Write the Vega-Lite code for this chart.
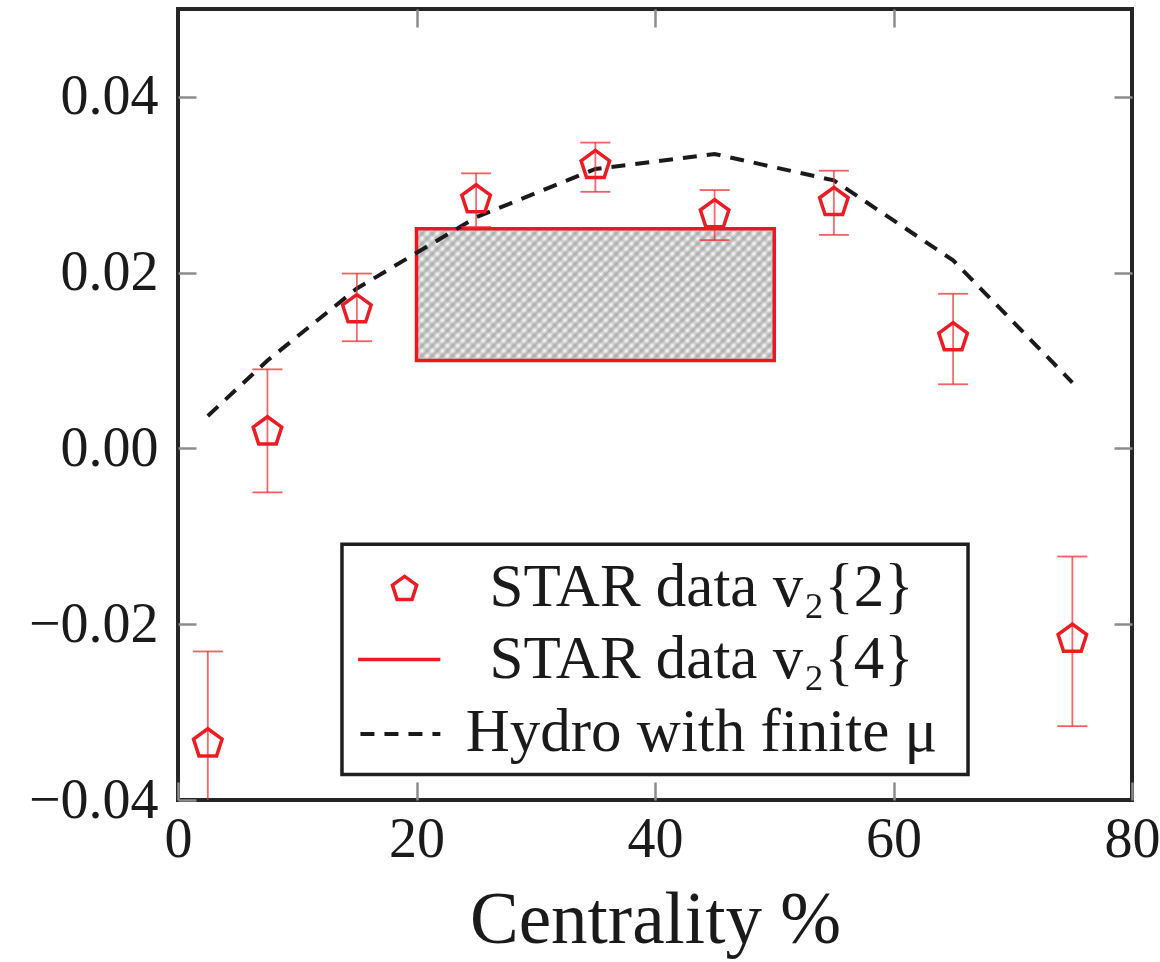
{
  "$schema": "https://vega.github.io/schema/vega-lite/v6.json",
  "width": 954,
  "height": 791,
  "autosize": "none",
  "padding": {"left": 178, "top": 9, "right": 28, "bottom": 162},
  "background": "white",
  "config": {
    "view": {"stroke": "#262626", "strokeWidth": 4},
    "font": "Liberation Serif",
    "axis": {
      "grid": false,
      "domain": false,
      "labelFont": "Liberation Serif",
      "titleFont": "Liberation Serif",
      "labelColor": "#1a1a1a",
      "titleColor": "#1a1a1a",
      "tickColor": "#8c8c8c",
      "tickWidth": 2.5,
      "tickSize": -18,
      "labelFlush": false,
      "titleFontWeight": "normal"
    }
  },
  "resolve": {"axis": {"x": "independent", "y": "independent"}},
  "datasets": {
    "v22": [
      {"centrality": 2.5, "v2": -0.0336, "lo": -0.0450, "hi": -0.0231},
      {"centrality": 7.5, "v2": 0.0019, "lo": -0.0050, "hi": 0.0090},
      {"centrality": 15, "v2": 0.0158, "lo": 0.0122, "hi": 0.0199},
      {"centrality": 25, "v2": 0.0283, "lo": 0.0252, "hi": 0.0313},
      {"centrality": 35, "v2": 0.0322, "lo": 0.0292, "hi": 0.0348},
      {"centrality": 45, "v2": 0.0266, "lo": 0.0237, "hi": 0.0294},
      {"centrality": 55, "v2": 0.0280, "lo": 0.0243, "hi": 0.0316},
      {"centrality": 65, "v2": 0.0126, "lo": 0.0073, "hi": 0.0176},
      {"centrality": 75, "v2": -0.0217, "lo": -0.0316, "hi": -0.0123}
    ],
    "hydro": [
      {"centrality": 2.5, "v2": 0.0037},
      {"centrality": 7.5, "v2": 0.0100},
      {"centrality": 15, "v2": 0.0182},
      {"centrality": 25, "v2": 0.0263},
      {"centrality": 35, "v2": 0.0318},
      {"centrality": 45, "v2": 0.0335},
      {"centrality": 55, "v2": 0.0305},
      {"centrality": 65, "v2": 0.0214},
      {"centrality": 75, "v2": 0.0075}
    ],
    "v24": [{"x0": 20, "x1": 50, "ylo": 0.010, "yhi": 0.025}],
    "legendBox": [{"x0": 13.75, "x1": 66.25, "y0": -0.0109, "y1": -0.0371}],
    "legendSymbol": [{"x": 19.0, "y": -0.0160}],
    "legendRed": [{"x0": 15.1, "x1": 22.0, "y": -0.0240}],
    "legendDash": [{"x0": 15.3, "x1": 22.0, "y": -0.0325}],
    "legendText": [
      {"x": 43.9, "y": -0.01795, "label": "STAR data v₂{2}"},
      {"x": 43.9, "y": -0.02614, "label": "STAR data v₂{4}"},
      {"x": 43.9, "y": -0.03443, "label": "Hydro with finite μ"}
    ]
  },
  "layer": [
    {
      "data": {"name": "v24"},
      "mark": {
        "type": "rect",
        "fill": {
          "gradient": "linear", "x1": 0, "y1": 0, "x2": 1.206, "y2": 0.445,
          "stops": [
            {"offset": 0, "color": "#b8b8b8"}, {"offset": 0.0104, "color": "#ffffff"}, {"offset": 0.0208, "color": "#b8b8b8"}, {"offset": 0.0313, "color": "#ffffff"},
            {"offset": 0.0417, "color": "#b8b8b8"}, {"offset": 0.0521, "color": "#ffffff"}, {"offset": 0.0625, "color": "#b8b8b8"}, {"offset": 0.0729, "color": "#ffffff"},
            {"offset": 0.0833, "color": "#b8b8b8"}, {"offset": 0.0938, "color": "#ffffff"}, {"offset": 0.1042, "color": "#b8b8b8"}, {"offset": 0.1146, "color": "#ffffff"},
            {"offset": 0.125, "color": "#b8b8b8"}, {"offset": 0.1354, "color": "#ffffff"}, {"offset": 0.1458, "color": "#b8b8b8"}, {"offset": 0.1563, "color": "#ffffff"},
            {"offset": 0.1667, "color": "#b8b8b8"}, {"offset": 0.1771, "color": "#ffffff"}, {"offset": 0.1875, "color": "#b8b8b8"}, {"offset": 0.1979, "color": "#ffffff"},
            {"offset": 0.2083, "color": "#b8b8b8"}, {"offset": 0.2188, "color": "#ffffff"}, {"offset": 0.2292, "color": "#b8b8b8"}, {"offset": 0.2396, "color": "#ffffff"},
            {"offset": 0.25, "color": "#b8b8b8"}, {"offset": 0.2604, "color": "#ffffff"}, {"offset": 0.2708, "color": "#b8b8b8"}, {"offset": 0.2813, "color": "#ffffff"},
            {"offset": 0.2917, "color": "#b8b8b8"}, {"offset": 0.3021, "color": "#ffffff"}, {"offset": 0.3125, "color": "#b8b8b8"}, {"offset": 0.3229, "color": "#ffffff"},
            {"offset": 0.3333, "color": "#b8b8b8"}, {"offset": 0.3438, "color": "#ffffff"}, {"offset": 0.3542, "color": "#b8b8b8"}, {"offset": 0.3646, "color": "#ffffff"},
            {"offset": 0.375, "color": "#b8b8b8"}, {"offset": 0.3854, "color": "#ffffff"}, {"offset": 0.3958, "color": "#b8b8b8"}, {"offset": 0.4063, "color": "#ffffff"},
            {"offset": 0.4167, "color": "#b8b8b8"}, {"offset": 0.4271, "color": "#ffffff"}, {"offset": 0.4375, "color": "#b8b8b8"}, {"offset": 0.4479, "color": "#ffffff"},
            {"offset": 0.4583, "color": "#b8b8b8"}, {"offset": 0.4688, "color": "#ffffff"}, {"offset": 0.4792, "color": "#b8b8b8"}, {"offset": 0.4896, "color": "#ffffff"},
            {"offset": 0.5, "color": "#b8b8b8"}, {"offset": 0.5104, "color": "#ffffff"}, {"offset": 0.5208, "color": "#b8b8b8"}, {"offset": 0.5313, "color": "#ffffff"},
            {"offset": 0.5417, "color": "#b8b8b8"}, {"offset": 0.5521, "color": "#ffffff"}, {"offset": 0.5625, "color": "#b8b8b8"}, {"offset": 0.5729, "color": "#ffffff"},
            {"offset": 0.5833, "color": "#b8b8b8"}, {"offset": 0.5938, "color": "#ffffff"}, {"offset": 0.6042, "color": "#b8b8b8"}, {"offset": 0.6146, "color": "#ffffff"},
            {"offset": 0.625, "color": "#b8b8b8"}, {"offset": 0.6354, "color": "#ffffff"}, {"offset": 0.6458, "color": "#b8b8b8"}, {"offset": 0.6563, "color": "#ffffff"},
            {"offset": 0.6667, "color": "#b8b8b8"}, {"offset": 0.6771, "color": "#ffffff"}, {"offset": 0.6875, "color": "#b8b8b8"}, {"offset": 0.6979, "color": "#ffffff"},
            {"offset": 0.7083, "color": "#b8b8b8"}, {"offset": 0.7188, "color": "#ffffff"}, {"offset": 0.7292, "color": "#b8b8b8"}, {"offset": 0.7396, "color": "#ffffff"},
            {"offset": 0.75, "color": "#b8b8b8"}, {"offset": 0.7604, "color": "#ffffff"}, {"offset": 0.7708, "color": "#b8b8b8"}, {"offset": 0.7813, "color": "#ffffff"},
            {"offset": 0.7917, "color": "#b8b8b8"}, {"offset": 0.8021, "color": "#ffffff"}, {"offset": 0.8125, "color": "#b8b8b8"}, {"offset": 0.8229, "color": "#ffffff"},
            {"offset": 0.8333, "color": "#b8b8b8"}, {"offset": 0.8438, "color": "#ffffff"}, {"offset": 0.8542, "color": "#b8b8b8"}, {"offset": 0.8646, "color": "#ffffff"},
            {"offset": 0.875, "color": "#b8b8b8"}, {"offset": 0.8854, "color": "#ffffff"}, {"offset": 0.8958, "color": "#b8b8b8"}, {"offset": 0.9063, "color": "#ffffff"},
            {"offset": 0.9167, "color": "#b8b8b8"}, {"offset": 0.9271, "color": "#ffffff"}, {"offset": 0.9375, "color": "#b8b8b8"}, {"offset": 0.9479, "color": "#ffffff"},
            {"offset": 0.9583, "color": "#b8b8b8"}, {"offset": 0.9688, "color": "#ffffff"}, {"offset": 0.9792, "color": "#b8b8b8"}, {"offset": 0.9896, "color": "#ffffff"},
            {"offset": 1, "color": "#b8b8b8"}
          ]
        }
      },
      "encoding": {
        "x": {
          "field": "x0", "type": "quantitative",
          "scale": {"domain": [0, 80], "nice": false, "zero": false},
          "axis": {"orient": "bottom", "values": [0, 20, 40, 60, 80], "labelFontSize": 56, "labelPadding": 30, "title": "Centrality %", "titleFontSize": 73, "titlePadding": 17}
        },
        "x2": {"field": "x1"},
        "y": {
          "field": "ylo", "type": "quantitative",
          "scale": {"domain": [-0.04, 0.05], "nice": false, "zero": false},
          "axis": {"orient": "left", "values": [-0.04, -0.02, 0, 0.02, 0.04], "format": ".2f", "labelFontSize": 56, "labelPadding": 38, "title": null}
        },
        "y2": {"field": "yhi"}
      }
    },
    {
      "data": {"name": "v24"},
      "mark": {
        "type": "rect",
        "fill": {
          "gradient": "linear", "x1": 0, "y1": 1, "x2": 1.206, "y2": 0.555,
          "stops": [
            {"offset": 0, "color": "rgba(150,150,150,0.45)"}, {"offset": 0.0104, "color": "rgba(150,150,150,0)"}, {"offset": 0.0208, "color": "rgba(150,150,150,0.45)"}, {"offset": 0.0313, "color": "rgba(150,150,150,0)"},
            {"offset": 0.0417, "color": "rgba(150,150,150,0.45)"}, {"offset": 0.0521, "color": "rgba(150,150,150,0)"}, {"offset": 0.0625, "color": "rgba(150,150,150,0.45)"}, {"offset": 0.0729, "color": "rgba(150,150,150,0)"},
            {"offset": 0.0833, "color": "rgba(150,150,150,0.45)"}, {"offset": 0.0938, "color": "rgba(150,150,150,0)"}, {"offset": 0.1042, "color": "rgba(150,150,150,0.45)"}, {"offset": 0.1146, "color": "rgba(150,150,150,0)"},
            {"offset": 0.125, "color": "rgba(150,150,150,0.45)"}, {"offset": 0.1354, "color": "rgba(150,150,150,0)"}, {"offset": 0.1458, "color": "rgba(150,150,150,0.45)"}, {"offset": 0.1563, "color": "rgba(150,150,150,0)"},
            {"offset": 0.1667, "color": "rgba(150,150,150,0.45)"}, {"offset": 0.1771, "color": "rgba(150,150,150,0)"}, {"offset": 0.1875, "color": "rgba(150,150,150,0.45)"}, {"offset": 0.1979, "color": "rgba(150,150,150,0)"},
            {"offset": 0.2083, "color": "rgba(150,150,150,0.45)"}, {"offset": 0.2188, "color": "rgba(150,150,150,0)"}, {"offset": 0.2292, "color": "rgba(150,150,150,0.45)"}, {"offset": 0.2396, "color": "rgba(150,150,150,0)"},
            {"offset": 0.25, "color": "rgba(150,150,150,0.45)"}, {"offset": 0.2604, "color": "rgba(150,150,150,0)"}, {"offset": 0.2708, "color": "rgba(150,150,150,0.45)"}, {"offset": 0.2813, "color": "rgba(150,150,150,0)"},
            {"offset": 0.2917, "color": "rgba(150,150,150,0.45)"}, {"offset": 0.3021, "color": "rgba(150,150,150,0)"}, {"offset": 0.3125, "color": "rgba(150,150,150,0.45)"}, {"offset": 0.3229, "color": "rgba(150,150,150,0)"},
            {"offset": 0.3333, "color": "rgba(150,150,150,0.45)"}, {"offset": 0.3438, "color": "rgba(150,150,150,0)"}, {"offset": 0.3542, "color": "rgba(150,150,150,0.45)"}, {"offset": 0.3646, "color": "rgba(150,150,150,0)"},
            {"offset": 0.375, "color": "rgba(150,150,150,0.45)"}, {"offset": 0.3854, "color": "rgba(150,150,150,0)"}, {"offset": 0.3958, "color": "rgba(150,150,150,0.45)"}, {"offset": 0.4063, "color": "rgba(150,150,150,0)"},
            {"offset": 0.4167, "color": "rgba(150,150,150,0.45)"}, {"offset": 0.4271, "color": "rgba(150,150,150,0)"}, {"offset": 0.4375, "color": "rgba(150,150,150,0.45)"}, {"offset": 0.4479, "color": "rgba(150,150,150,0)"},
            {"offset": 0.4583, "color": "rgba(150,150,150,0.45)"}, {"offset": 0.4688, "color": "rgba(150,150,150,0)"}, {"offset": 0.4792, "color": "rgba(150,150,150,0.45)"}, {"offset": 0.4896, "color": "rgba(150,150,150,0)"},
            {"offset": 0.5, "color": "rgba(150,150,150,0.45)"}, {"offset": 0.5104, "color": "rgba(150,150,150,0)"}, {"offset": 0.5208, "color": "rgba(150,150,150,0.45)"}, {"offset": 0.5313, "color": "rgba(150,150,150,0)"},
            {"offset": 0.5417, "color": "rgba(150,150,150,0.45)"}, {"offset": 0.5521, "color": "rgba(150,150,150,0)"}, {"offset": 0.5625, "color": "rgba(150,150,150,0.45)"}, {"offset": 0.5729, "color": "rgba(150,150,150,0)"},
            {"offset": 0.5833, "color": "rgba(150,150,150,0.45)"}, {"offset": 0.5938, "color": "rgba(150,150,150,0)"}, {"offset": 0.6042, "color": "rgba(150,150,150,0.45)"}, {"offset": 0.6146, "color": "rgba(150,150,150,0)"},
            {"offset": 0.625, "color": "rgba(150,150,150,0.45)"}, {"offset": 0.6354, "color": "rgba(150,150,150,0)"}, {"offset": 0.6458, "color": "rgba(150,150,150,0.45)"}, {"offset": 0.6563, "color": "rgba(150,150,150,0)"},
            {"offset": 0.6667, "color": "rgba(150,150,150,0.45)"}, {"offset": 0.6771, "color": "rgba(150,150,150,0)"}, {"offset": 0.6875, "color": "rgba(150,150,150,0.45)"}, {"offset": 0.6979, "color": "rgba(150,150,150,0)"},
            {"offset": 0.7083, "color": "rgba(150,150,150,0.45)"}, {"offset": 0.7188, "color": "rgba(150,150,150,0)"}, {"offset": 0.7292, "color": "rgba(150,150,150,0.45)"}, {"offset": 0.7396, "color": "rgba(150,150,150,0)"},
            {"offset": 0.75, "color": "rgba(150,150,150,0.45)"}, {"offset": 0.7604, "color": "rgba(150,150,150,0)"}, {"offset": 0.7708, "color": "rgba(150,150,150,0.45)"}, {"offset": 0.7813, "color": "rgba(150,150,150,0)"},
            {"offset": 0.7917, "color": "rgba(150,150,150,0.45)"}, {"offset": 0.8021, "color": "rgba(150,150,150,0)"}, {"offset": 0.8125, "color": "rgba(150,150,150,0.45)"}, {"offset": 0.8229, "color": "rgba(150,150,150,0)"},
            {"offset": 0.8333, "color": "rgba(150,150,150,0.45)"}, {"offset": 0.8438, "color": "rgba(150,150,150,0)"}, {"offset": 0.8542, "color": "rgba(150,150,150,0.45)"}, {"offset": 0.8646, "color": "rgba(150,150,150,0)"},
            {"offset": 0.875, "color": "rgba(150,150,150,0.45)"}, {"offset": 0.8854, "color": "rgba(150,150,150,0)"}, {"offset": 0.8958, "color": "rgba(150,150,150,0.45)"}, {"offset": 0.9063, "color": "rgba(150,150,150,0)"},
            {"offset": 0.9167, "color": "rgba(150,150,150,0.45)"}, {"offset": 0.9271, "color": "rgba(150,150,150,0)"}, {"offset": 0.9375, "color": "rgba(150,150,150,0.45)"}, {"offset": 0.9479, "color": "rgba(150,150,150,0)"},
            {"offset": 0.9583, "color": "rgba(150,150,150,0.45)"}, {"offset": 0.9688, "color": "rgba(150,150,150,0)"}, {"offset": 0.9792, "color": "rgba(150,150,150,0.45)"}, {"offset": 0.9896, "color": "rgba(150,150,150,0)"},
            {"offset": 1, "color": "rgba(150,150,150,0.45)"}
          ]
        }
      },
      "encoding": {
        "x": {"field": "x0", "type": "quantitative", "axis": {"orient": "top", "values": [20, 40, 60], "labels": false, "title": null}},
        "x2": {"field": "x1"},
        "y": {"field": "ylo", "type": "quantitative", "axis": {"orient": "right", "values": [-0.02, 0, 0.02, 0.04], "labels": false, "title": null}},
        "y2": {"field": "yhi"}
      }
    },
    {
      "data": {"name": "v24"},
      "mark": {"type": "rect", "fill": "transparent", "stroke": "#e8191f", "strokeWidth": 3.5},
      "encoding": {
        "x": {"field": "x0", "type": "quantitative", "axis": null},
        "x2": {"field": "x1"},
        "y": {"field": "ylo", "type": "quantitative", "axis": null},
        "y2": {"field": "yhi"}
      }
    },
    {
      "data": {"name": "hydro"},
      "mark": {"type": "line", "color": "#1a1a1a", "strokeWidth": 4, "strokeDash": [14, 10]},
      "encoding": {
        "x": {"field": "centrality", "type": "quantitative", "axis": null},
        "y": {"field": "v2", "type": "quantitative", "axis": null}
      }
    },
    {
      "data": {"name": "v22"},
      "mark": {"type": "rule", "color": "#ee2a30", "opacity": 0.7, "strokeWidth": 1.8, "clip": true},
      "encoding": {
        "x": {"field": "centrality", "type": "quantitative", "axis": null},
        "y": {"field": "lo", "type": "quantitative", "axis": null},
        "y2": {"field": "hi"}
      }
    },
    {
      "data": {"name": "v22"},
      "mark": {"type": "tick", "orient": "horizontal", "color": "#ee2a30", "opacity": 0.75, "size": 30, "thickness": 1.8, "clip": true},
      "encoding": {
        "x": {"field": "centrality", "type": "quantitative", "axis": null},
        "y": {"field": "hi", "type": "quantitative", "axis": null}
      }
    },
    {
      "data": {"name": "v22"},
      "mark": {"type": "tick", "orient": "horizontal", "color": "#ee2a30", "opacity": 0.75, "size": 30, "thickness": 1.8, "clip": true},
      "encoding": {
        "x": {"field": "centrality", "type": "quantitative", "axis": null},
        "y": {"field": "lo", "type": "quantitative", "axis": null}
      }
    },
    {
      "data": {"name": "v22"},
      "mark": {"type": "point", "shape": "M0,-1L0.951,-0.309L0.588,0.809L-0.588,0.809L-0.951,-0.309Z", "size": 900, "filled": false, "color": "#ea1c24", "strokeWidth": 3.5, "opacity": 1},
      "encoding": {
        "x": {"field": "centrality", "type": "quantitative", "axis": null},
        "y": {"field": "v2", "type": "quantitative", "axis": null}
      }
    },
    {
      "data": {"name": "legendBox"},
      "mark": {"type": "rect", "fill": "white", "stroke": "#1f1f1f", "strokeWidth": 3.5},
      "encoding": {
        "x": {"field": "x0", "type": "quantitative", "axis": null},
        "x2": {"field": "x1"},
        "y": {"field": "y0", "type": "quantitative", "axis": null},
        "y2": {"field": "y1"}
      }
    },
    {
      "data": {"name": "legendSymbol"},
      "mark": {"type": "point", "shape": "M0,-1L0.951,-0.309L0.588,0.809L-0.588,0.809L-0.951,-0.309Z", "size": 650, "filled": false, "color": "#ea1c24", "strokeWidth": 3.5, "opacity": 1},
      "encoding": {
        "x": {"field": "x", "type": "quantitative", "axis": null},
        "y": {"field": "y", "type": "quantitative", "axis": null}
      }
    },
    {
      "data": {"name": "legendRed"},
      "mark": {"type": "rule", "color": "#ea1c24", "strokeWidth": 3.5},
      "encoding": {
        "x": {"field": "x0", "type": "quantitative", "axis": null},
        "x2": {"field": "x1"},
        "y": {"field": "y", "type": "quantitative", "axis": null}
      }
    },
    {
      "data": {"name": "legendDash"},
      "mark": {"type": "rule", "color": "#1a1a1a", "strokeWidth": 4, "strokeDash": [14, 10]},
      "encoding": {
        "x": {"field": "x0", "type": "quantitative", "axis": null},
        "x2": {"field": "x1"},
        "y": {"field": "y", "type": "quantitative", "axis": null}
      }
    },
    {
      "data": {"name": "legendText"},
      "mark": {"type": "text", "font": "Liberation Serif", "fontSize": 61, "align": "center", "baseline": "alphabetic", "color": "#1a1a1a"},
      "encoding": {
        "x": {"field": "x", "type": "quantitative", "axis": null},
        "y": {"field": "y", "type": "quantitative", "axis": null},
        "text": {"field": "label"}
      }
    }
  ]
}
